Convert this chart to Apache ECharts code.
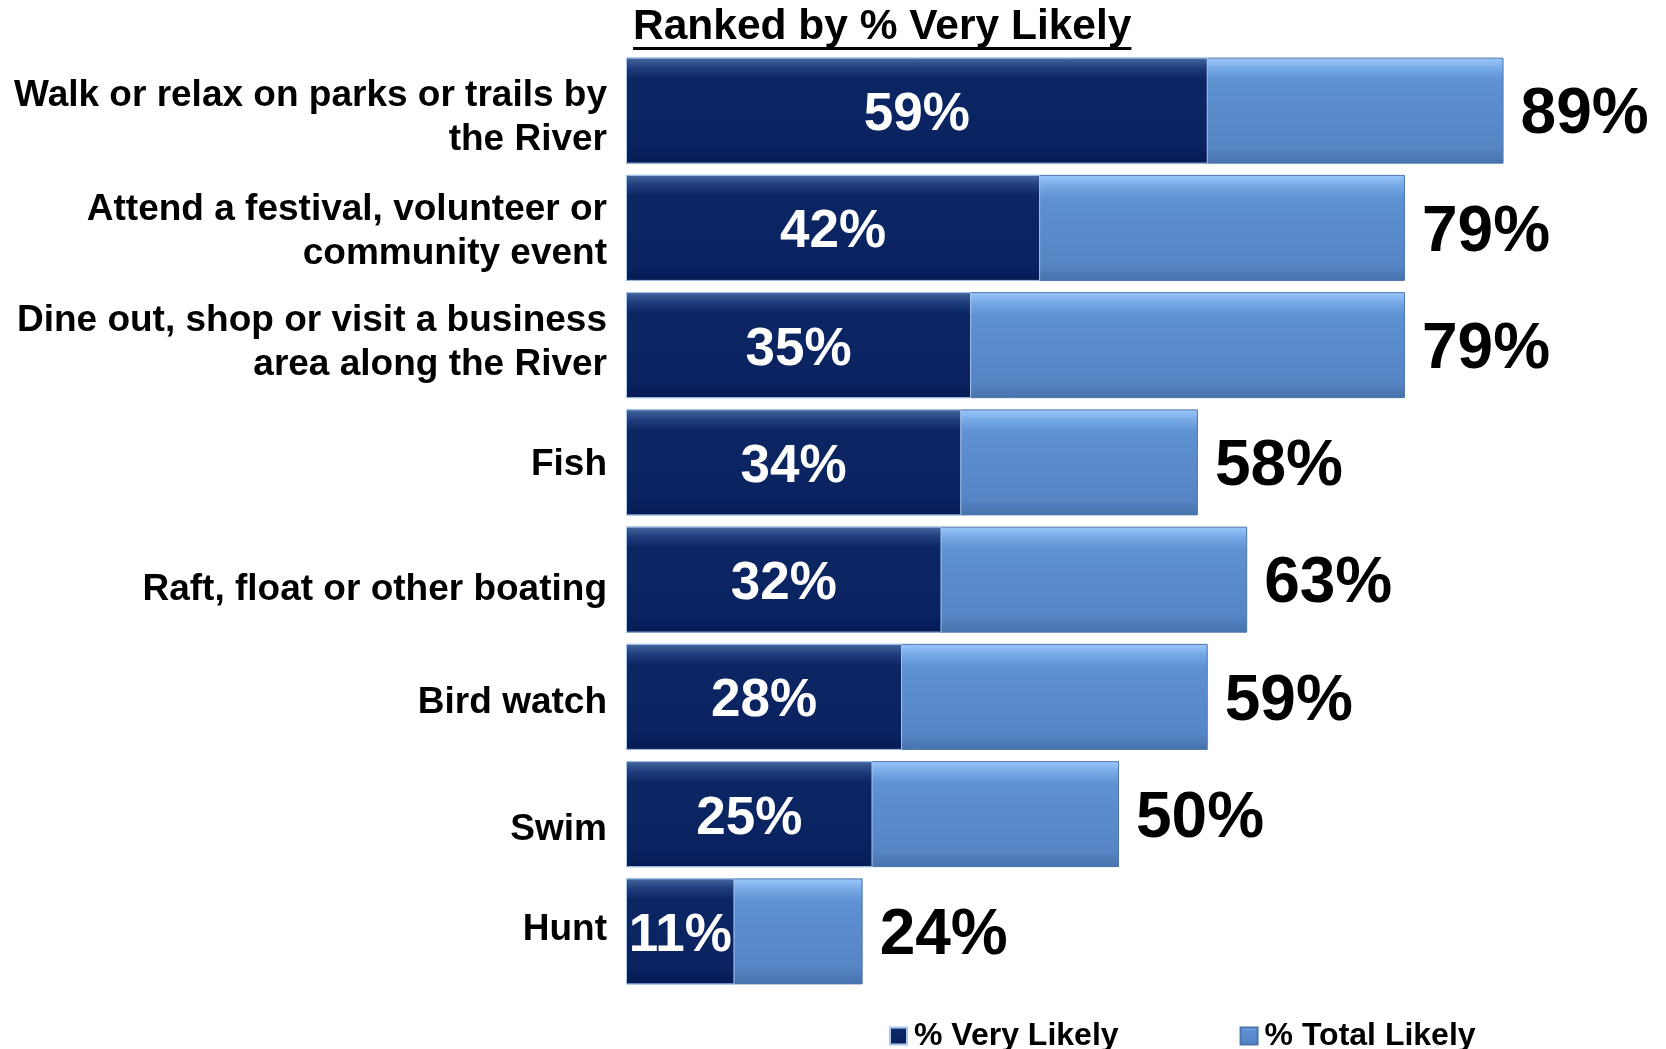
<!DOCTYPE html>
<html>
<head>
<meta charset="utf-8">
<script src="https://cdn.jsdelivr.net/npm/echarts@6/dist/echarts.min.js"></script>
<style>
    html, body { margin: 0; padding: 0; background: #fff; }
    #chart { width: 1666px; height: 1049px; }
</style>
</head>
<body>
<div id="chart"></div>
<script>
// data
const activities = [
    'Walk or relax on parks or trails by\nthe River',
    'Attend a festival, volunteer or\ncommunity event',
    'Dine out, shop or visit a business\narea along the River',
    'Fish',
    'Raft, float or other boating',
    'Bird watch',
    'Swim',
    'Hunt'
]
const veryLikely = [59, 42, 35, 34, 32, 28, 25, 11]
const totalLikely = [89, 79, 79, 58, 63, 59, 50, 24]
const seriesNames = ['% Very Likely', '% Total Likely']
const titleText = 'Ranked by % Very Likely'

const FONT = '"Liberation Sans", Arial, Helvetica, sans-serif'

// small vertical nudges of the row labels, as in the slide (px, down)
const labelNudge = [7, 4, -2, 2, 10, 6, 16, -2]

// title width for the underline
const cvs = document.createElement('canvas').getContext('2d')
cvs.font = 'bold 42.5px ' + FONT
const titleW = cvs.measureText(titleText).width

const chart = echarts.init(document.getElementById('chart'))

// bevel-ish vertical gradients
const darkFill = new echarts.graphic.LinearGradient(0, 0, 0, 1, [
    { offset: 0, color: '#45679f' },
    { offset: 0.1, color: '#1f3c7c' },
    { offset: 0.2, color: '#0c2664' },
    { offset: 0.85, color: '#0a2260' },
    { offset: 1, color: '#051a54' }
])
const lightFill = new echarts.graphic.LinearGradient(0, 0, 0, 1, [
    { offset: 0, color: '#9cc9fb' },
    { offset: 0.1, color: '#76a9e6' },
    { offset: 0.22, color: '#5d91d2' },
    { offset: 0.85, color: '#5685c5' },
    { offset: 1, color: '#4772ac' }
])

// rich styles: each line padded on top (or bottom) to shift it a bit
const labelFont = {
    fontFamily: FONT,
    fontWeight: 'bold',
    fontSize: 37,
    lineHeight: 44,
    color: '#000',
    align: 'right'
}
const rich = {}
labelNudge.forEach((d, i) => {
    rich['r' + i] = Object.assign({}, labelFont, {
        padding: d >= 0 ? [2 * d, 0, 0, 0] : [0, 0, -2 * d, 0]
    })
})

function labelFormatter(value, index) {
    return value.split('\n').map(line => '{r' + index + '|' + line + '}').join('\n')
}

const option = {
    animation: false,
    graphic: [
        {
            type: 'text',
            left: 633,
            top: 6,
            style: {
                text: titleText,
                font: 'bold 42.5px ' + FONT,
                fill: '#000'
            }
        },
        {
            type: 'rect',
            shape: { x: 633, y: 47, width: titleW, height: 3 },
            style: { fill: '#000' }
        }
    ],
    legend: {
        data: seriesNames,
        left: 889,
        top: 1020,
        padding: 0,
        itemWidth: 17,
        itemHeight: 17,
        itemGap: 121,
        icon: 'rect',
        textStyle: {
            fontFamily: FONT,
            fontWeight: 'bold',
            fontSize: 32,
            color: '#000',
            padding: [0, 0, 0, 2]
        }
    },
    grid: {
        left: 626,
        top: 52,
        width: 986,
        height: 938,
        containLabel: false
    },
    xAxis: {
        type: 'value',
        min: 0,
        max: 100,
        show: false
    },
    yAxis: {
        type: 'category',
        data: activities,
        inverse: true,
        axisLine: { show: false },
        axisTick: { show: false },
        splitLine: { show: false },
        axisLabel: Object.assign({
            margin: 19,
            formatter: labelFormatter,
            rich: rich
        }, labelFont)
    },
    series: [
        {
            name: seriesNames[1],
            type: 'bar',
            data: totalLikely,
            barWidth: 106,
            itemStyle: {
                color: lightFill,
                borderColor: '#4a75ad',
                borderWidth: 1
            },
            label: {
                show: true,
                position: 'right',
                distance: 17,
                offset: [0, 5],
                formatter: '{c}%',
                fontFamily: FONT,
                fontWeight: 'bold',
                fontSize: 64,
                color: '#000'
            }
        },
        {
            name: seriesNames[0],
            type: 'bar',
            data: veryLikely,
            barWidth: 106,
            barGap: '-100%',
            itemStyle: {
                color: darkFill,
                borderColor: '#a8c8ee',
                borderWidth: 1
            },
            label: {
                show: true,
                position: 'inside',
                offset: [0, 5],
                formatter: '{c}%',
                fontFamily: FONT,
                fontWeight: 'bold',
                fontSize: 53,
                color: '#fff'
            }
        }
    ]
}
chart.setOption(option)
</script>
</body>
</html>
